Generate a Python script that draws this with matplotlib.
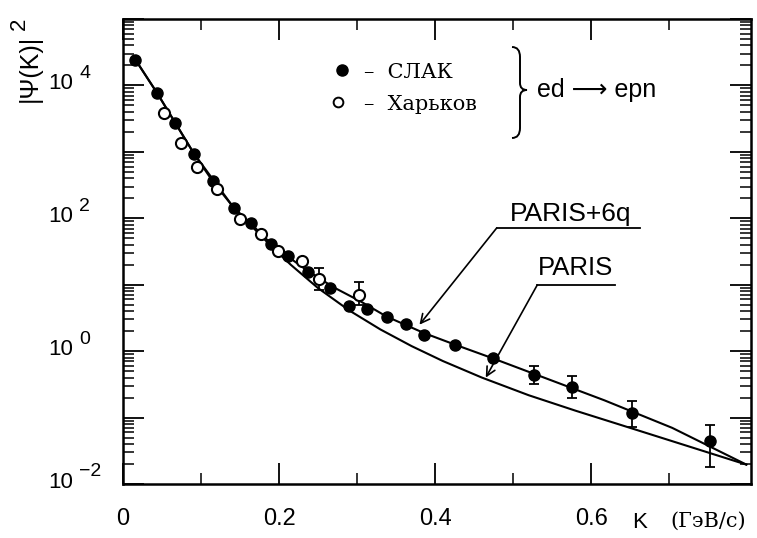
import numpy as np
import matplotlib
matplotlib.use("Agg")
import matplotlib.pyplot as plt
from matplotlib.path import Path
from matplotlib.patches import PathPatch
from matplotlib.ticker import FixedLocator, LogLocator, NullFormatter
from matplotlib.transforms import blended_transform_factory, offset_copy

plt.rcParams['font.family'] = ['Liberation Sans', 'DejaVu Sans']

# ---------------- data ----------------
slac_k = [0.016, 0.044, 0.067, 0.091, 0.115, 0.142, 0.164, 0.190, 0.211, 0.237, 0.265,
          0.290, 0.313, 0.338, 0.363, 0.386, 0.425, 0.474, 0.527, 0.575, 0.652, 0.752]
slac_v = [2.43e4, 7.6e3, 2.7e3, 940, 360, 144, 84, 41.2, 26.7, 15.6, 8.8,
          4.8, 4.25, 3.27, 2.52, 1.75, 1.23, 0.78, 0.44, 0.29, 0.119, 0.045]
slac_eb_k = [0.527, 0.575, 0.652, 0.752]
slac_eb_v = [0.44, 0.29, 0.119, 0.045]
slac_eb_lo = [0.32, 0.20, 0.073, 0.018]
slac_eb_hi = [0.60, 0.42, 0.18, 0.076]

khar_k = [0.052, 0.074, 0.095, 0.120, 0.150, 0.177, 0.199, 0.229, 0.251, 0.302]
khar_v = [3800, 1360, 600, 275, 99, 58, 32.5, 22.7, 12.3, 7.1]
khar_eb_k = [0.251, 0.302]
khar_eb_v = [12.3, 7.1]
khar_eb_lo = [8.4, 5.0]
khar_eb_hi = [18.1, 10.8]

paris6q_k = [0.016, 0.044, 0.067, 0.091, 0.115, 0.142, 0.164, 0.190, 0.211, 0.237,
             0.270, 0.305, 0.338, 0.386, 0.425, 0.474, 0.617, 0.704, 0.799]
paris6q_v = [2.43e4, 7.6e3, 2.72e3, 940, 360, 144, 83, 41.2, 26.7, 16.1,
             9.14, 5.57, 3.31, 1.87, 1.26, 0.78, 0.182, 0.070, 0.0196]

paris_k = [0.016, 0.044, 0.091, 0.142, 0.165, 0.19, 0.215, 0.25, 0.29, 0.33,
           0.37, 0.41, 0.46, 0.52, 0.58, 0.65, 0.72, 0.799]
paris_v = [2.43e4, 7.6e3, 940, 144, 76, 38, 20.0, 8.9, 4.1, 2.12,
           1.19, 0.71, 0.40, 0.217, 0.127, 0.070, 0.0385, 0.0196]

x_major = [0, 0.2, 0.4, 0.6]
x_major_labels = ["0", "0.2", "0.4", "0.6"]
x_minor = [0.1, 0.3, 0.5, 0.7]
y_label_exps = [4, 2, 0, -2]

# ---------------- figure ----------------
W, H = 757, 538
fig = plt.figure(figsize=(W / 100, H / 100), dpi=100)
AX_L, AX_R, AX_T, AX_B = 123, 751, 19, 484
ax = fig.add_axes([AX_L / W, 1 - AX_B / H, (AX_R - AX_L) / W, (AX_B - AX_T) / H])


def axp(px, py):
    """pixel position -> axes fraction"""
    return ((px - AX_L) / (AX_R - AX_L), (AX_B - py) / (AX_B - AX_T))


ax.set_yscale('log')
ax.set_xlim(0, 0.805)
ax.set_ylim(1e-2, 1e5)

for s in ax.spines.values():
    s.set_linewidth(1.8)

ax.xaxis.set_major_locator(FixedLocator(x_major))
ax.xaxis.set_minor_locator(FixedLocator(x_minor))
ax.set_xticklabels(x_major_labels)
ax.yaxis.set_major_locator(LogLocator(base=10, numticks=20))
ax.yaxis.set_minor_locator(LogLocator(base=10, subs=np.arange(2, 10), numticks=40))
ax.yaxis.set_major_formatter(NullFormatter())
ax.yaxis.set_minor_formatter(NullFormatter())

ax.tick_params(axis='both', which='major', direction='in', length=15, width=1.3,
               top=True, right=True)
ax.tick_params(axis='both', which='minor', direction='in', length=8, width=1.1,
               top=True, right=True)
ax.tick_params(axis='x', which='major', labelsize=17, pad=17)

# curves
ax.plot(paris6q_k, paris6q_v, color='black', lw=1.5, zorder=2)
ax.plot(paris_k, paris_v, color='black', lw=1.5, zorder=2)

# error bars
ax.errorbar(slac_eb_k, slac_eb_v,
            yerr=[np.subtract(slac_eb_v, slac_eb_lo), np.subtract(slac_eb_hi, slac_eb_v)],
            fmt='none', ecolor='black', elinewidth=1.3, capsize=3.5, capthick=1.3, zorder=3)
ax.errorbar(khar_eb_k, khar_eb_v,
            yerr=[np.subtract(khar_eb_v, khar_eb_lo), np.subtract(khar_eb_hi, khar_eb_v)],
            fmt='none', ecolor='black', elinewidth=1.3, capsize=3.5, capthick=1.3, zorder=3)

# points
ax.plot(slac_k, slac_v, 'o', color='black', ms=8, zorder=4)
ax.plot(khar_k, khar_v, 'o', mfc='white', mec='black', mew=1.5, ms=8, zorder=5)

# y tick labels (10 with exponent)
trans = blended_transform_factory(ax.transAxes, ax.transData)
for e in y_label_exps:
    ax.text(0, 10.0 ** e, '10', transform=offset_copy(trans, fig=fig, x=-50, y=2, units='dots'),
            ha='right', va='center', fontsize=16, clip_on=False)
    ax.text(0, 10.0 ** e, ('−2' if e < 0 else str(e)),
            transform=offset_copy(trans, fig=fig, x=-44, y=12, units='dots'),
            ha='left', va='center', fontsize=14, clip_on=False)

# y label
fig.text(30 / W, 1 - 68 / H, '|Ψ(K)|', rotation=90, ha='center', va='center', fontsize=18)
fig.text(19 / W, 1 - 24 / H, '2', rotation=90, ha='center', va='center', fontsize=16)

# x label
fig.text(640 / W, 1 - 522 / H, 'K', ha='center', va='center', fontsize=16)
fig.text(746 / W, 1 - 521 / H, '(ГэВ/с)', ha='right', va='center', fontsize=15,
         family='DejaVu Serif')

# legend
ax.plot(*axp(342, 70), 'o', color='black', ms=8, transform=ax.transAxes, clip_on=False)
ax.plot(*axp(338, 102), 'o', mfc='white', mec='black', mew=1.4, ms=7,
        transform=ax.transAxes, clip_on=False)
ax.text(*axp(364, 72), '–  СЛАК', transform=ax.transAxes, ha='left', va='center',
        fontsize=15, family='DejaVu Serif')
ax.text(*axp(364, 104), '–  Харьков', transform=ax.transAxes, ha='left', va='center',
        fontsize=15, family='DejaVu Serif')

# brace
bp = [(512, 47), (520, 47), (520, 57), (520, 83), (520, 90), (527, 90),
      (520, 90), (520, 97), (520, 128), (520, 138), (512, 138)]
verts = [axp(*p) for p in bp]
codes = [Path.MOVETO, Path.CURVE3, Path.CURVE3, Path.LINETO, Path.CURVE3, Path.CURVE3,
         Path.CURVE3, Path.CURVE3, Path.LINETO, Path.CURVE3, Path.CURVE3]
ax.add_patch(PathPatch(Path(verts, codes), fill=False, lw=1.4, color='black',
                       transform=ax.transAxes, clip_on=False))
ax.text(*axp(537, 90), 'ed ⟶ epn', transform=ax.transAxes, ha='left', va='center',
        fontsize=18)

# curve labels with leaders
ax.text(*axp(571, 214), 'PARIS+6q', transform=ax.transAxes, ha='center', va='center',
        fontsize=19)
ax.plot([0.479, 0.663], [71.4, 71.4], color='black', lw=1.3)
ax.annotate('', xy=(0.380, 2.5), xytext=(0.479, 71.4),
            arrowprops=dict(arrowstyle='->', lw=1.2, color='black', mutation_scale=16,
                            shrinkA=0, shrinkB=0))

ax.text(*axp(576, 268), 'PARIS', transform=ax.transAxes, ha='center', va='center',
        fontsize=18.5)
ax.plot([0.531, 0.631], [9.9, 9.9], color='black', lw=1.3)
ax.annotate('', xy=(0.465, 0.40), xytext=(0.531, 9.9),
            arrowprops=dict(arrowstyle='->', lw=1.2, color='black', mutation_scale=16,
                            shrinkA=0, shrinkB=0))

fig.savefig('out.png', dpi=100)
